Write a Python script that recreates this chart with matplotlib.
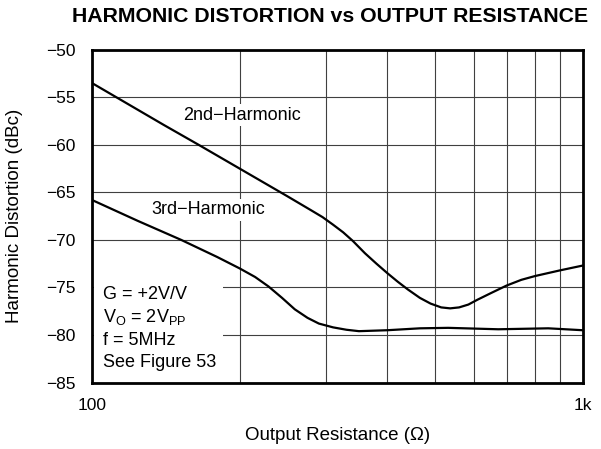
import matplotlib
matplotlib.use('Agg')
import matplotlib.pyplot as plt
from matplotlib.patches import Rectangle
from matplotlib.ticker import FixedLocator, NullFormatter

plt.rcParams['font.family'] = ['Liberation Sans', 'DejaVu Sans']

################# data #########################################
# output resistance (ohm) and distortion (dBc)
r_2nd = [100, 140, 165, 200, 250, 280, 295, 310, 325, 340, 360, 380, 400, 420, 440, 466, 490, 515,
         537, 560, 585, 610, 650, 700, 750, 800, 900, 1000]
hd_2nd = [-53.5, -57.9, -60.0, -62.5, -65.4, -66.9, -67.6, -68.4, -69.2, -70.1, -71.4, -72.5, -73.5,
          -74.4, -75.2, -76.1, -76.7, -77.1, -77.2, -77.1, -76.8, -76.3, -75.6, -74.8, -74.2, -73.8,
          -73.2, -72.7]

r_3rd = [100, 124, 152, 180, 200, 215, 229, 244, 259, 275, 290, 310, 330, 350, 400, 466, 532, 673,
         851, 1000]
hd_3rd = [-65.8, -68.0, -70.0, -71.8, -73.0, -73.9, -74.9, -76.1, -77.3, -78.2, -78.8, -79.2, -79.45,
          -79.6, -79.5, -79.3, -79.25, -79.4, -79.3, -79.5]

y_ticks = [-50, -55, -60, -65, -70, -75, -80, -85]
x_ticks = [100, 1000]
x_tick_labels = ['100', '1k']
x_minor = [200, 300, 400, 500, 600, 700, 800, 900]

notes = ['G = +2V/V', r'V$_\mathregular{O}$ = 2V$_\mathregular{PP}$', 'f = 5MHz', 'See Figure 53']

################# canvas ########################################
fig = plt.figure(figsize=(6.01, 4.49), dpi=100)
ax = fig.add_axes([0.1531, 0.1481, 0.8163, 0.7410])

ax.set_xscale('log')
ax.set_xlim(100, 1000)
ax.set_ylim(-85, -50)

ax.set_xticks(x_ticks)
ax.set_xticklabels(x_tick_labels)
ax.xaxis.set_minor_locator(FixedLocator(x_minor))
ax.xaxis.set_minor_formatter(NullFormatter())
ax.set_yticks(y_ticks)
ax.set_yticklabels(['\u2212%d' % abs(v) for v in y_ticks])

ax.tick_params(axis='both', which='both', length=0, labelsize=12.5)
ax.tick_params(axis='y', pad=12)
ax.tick_params(axis='x', pad=11)

ax.grid(True, which='both', axis='x', color='#404040', linewidth=0.8)
ax.grid(True, which='major', axis='y', color='#404040', linewidth=0.8)
ax.set_axisbelow(True)

for spine in ax.spines.values():
    spine.set_linewidth(2.0)
    spine.set_color('black')

################# curves ########################################
ax.plot(r_2nd, hd_2nd, color='black', linewidth=1.6, zorder=4)
ax.plot(r_3rd, hd_3rd, color='black', linewidth=1.6, zorder=4)

ax.text(0.3057, 0.804, '2nd\u2212Harmonic', transform=ax.transAxes, fontsize=13,
        ha='center', va='center', bbox=dict(facecolor='white', edgecolor='none', pad=2), zorder=3)
ax.text(0.2365, 0.519, '3rd\u2212Harmonic', transform=ax.transAxes, fontsize=13,
        ha='center', va='center', bbox=dict(facecolor='white', edgecolor='none', pad=2), zorder=3)

# white box behind the conditions
ax.add_patch(Rectangle((0.004, 0.006), 0.263, 0.33, transform=ax.transAxes,
                       facecolor='white', edgecolor='none', zorder=2))
for i, s in enumerate(notes):
    ax.text(0.0224, 0.251 - i * 0.0685, s, transform=ax.transAxes, fontsize=13,
            ha='left', va='baseline', zorder=3)

################# labels ########################################
ax.set_xlabel('Output Resistance (\u03a9)', fontsize=13.5, va='center')
ax.xaxis.set_label_coords(0.5, -0.158)
ax.set_ylabel('Harmonic Distortion (dBc)', fontsize=13.5, va='center')
ax.yaxis.set_label_coords(-0.157, 0.5)

fig.text(0.549, 0.964, 'HARMONIC DISTORTION vs OUTPUT RESISTANCE', fontsize=15.3,
         fontweight='bold', ha='center', va='center')

fig.savefig('out.png', dpi=100)
